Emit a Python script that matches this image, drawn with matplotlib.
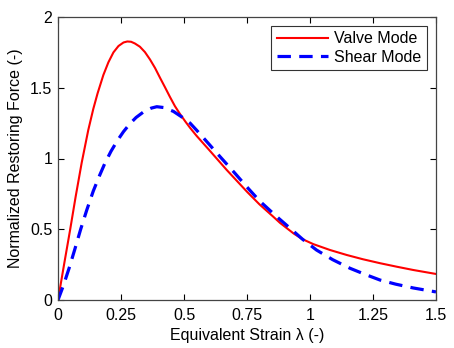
import matplotlib
matplotlib.use("Agg")
import matplotlib.pyplot as plt

plt.rcParams['font.family'] = ['Liberation Sans', 'DejaVu Sans']

valve_x = [0, 0.024, 0.048, 0.07, 0.094, 0.12, 0.14, 0.157, 0.18, 0.2, 0.22, 0.24, 0.26, 0.275,
           0.29, 0.305, 0.325, 0.345, 0.365, 0.385, 0.405, 0.425, 0.444, 0.464, 0.484, 0.505,
           0.524, 0.55, 0.6, 0.669, 0.75, 0.8, 0.854, 0.881, 0.935, 0.97, 1.013, 1.08, 1.146,
           1.21, 1.278, 1.345, 1.41, 1.5]
valve_y = [0, 0.25, 0.495, 0.73, 0.97, 1.20, 1.35, 1.46, 1.59, 1.68, 1.75, 1.795, 1.82, 1.827,
           1.825, 1.813, 1.79, 1.752, 1.70, 1.64, 1.57, 1.502, 1.436, 1.37, 1.315, 1.262,
           1.217, 1.16, 1.06, 0.92, 0.765, 0.675, 0.589, 0.545, 0.47, 0.43, 0.395, 0.353, 0.318,
           0.288, 0.26, 0.235, 0.212, 0.184]

shear_x = [0, 0.021, 0.045, 0.067, 0.09, 0.114, 0.14, 0.165, 0.186, 0.21, 0.235, 0.26, 0.285,
           0.31, 0.34, 0.37, 0.392, 0.42, 0.458, 0.49, 0.524, 0.55, 0.6, 0.643, 0.7, 0.749,
           0.8, 0.868, 0.921, 0.97, 1.026, 1.09, 1.159, 1.22, 1.278, 1.34, 1.41, 1.5]
shear_y = [0, 0.1, 0.23, 0.36, 0.5, 0.635, 0.77, 0.88, 0.966, 1.05, 1.125, 1.19, 1.245,
           1.29, 1.33, 1.356, 1.366, 1.36, 1.333, 1.295, 1.25, 1.20, 1.10, 1.013, 0.90, 0.80,
           0.70, 0.589, 0.507, 0.43, 0.353, 0.285, 0.224, 0.18, 0.141, 0.112, 0.085, 0.057]

xticks = [0, 0.25, 0.5, 0.75, 1, 1.25, 1.5]
xticklabels = ['0', '0.25', '0.5', '0.75', '1', '1.25', '1.5']
yticks = [0, 0.5, 1, 1.5, 2]
yticklabels = ['0', '0.5', '1', '1.5', '2']

fig = plt.figure(figsize=(4.54, 3.48), dpi=100)
ax = fig.add_axes([58/454, 48/348, 378/454, 283/348])

ax.plot(valve_x, valve_y, color='#ff0000', lw=1.5, label='Valve Mode')
ax.plot(shear_x, shear_y, color='#0000ff', lw=2.3, linestyle=(0, (4.2, 2.6)), label='Shear Mode')

ax.set_xlim(0, 1.5)
ax.set_ylim(0, 2)
ax.set_xticks(xticks)
ax.set_xticklabels(xticklabels)
ax.set_yticks(yticks)
ax.set_yticklabels(yticklabels)
ax.tick_params(direction='in', top=True, right=True, length=4, width=0.8,
               labelsize=11.5, colors='#000000', pad=4)
ax.tick_params(axis='x', pad=5.5)
for s in ax.spines.values():
    s.set_color('#444444')
    s.set_linewidth(0.9)

ax.set_xlabel('Equivalent Strain \u03bb (-)', fontsize=11.5, labelpad=4)
ax.set_ylabel('Normalized Restoring Force (-)', fontsize=11.5, labelpad=5)

leg = ax.legend(loc='upper right', fontsize=11.5, frameon=True, fancybox=False,
                edgecolor='#000000', handlelength=3.2, handletextpad=0.4,
                borderpad=0.35, labelspacing=0.2, borderaxespad=0.55)
leg.get_frame().set_linewidth(0.8)

fig.savefig('out.png', dpi=100)
